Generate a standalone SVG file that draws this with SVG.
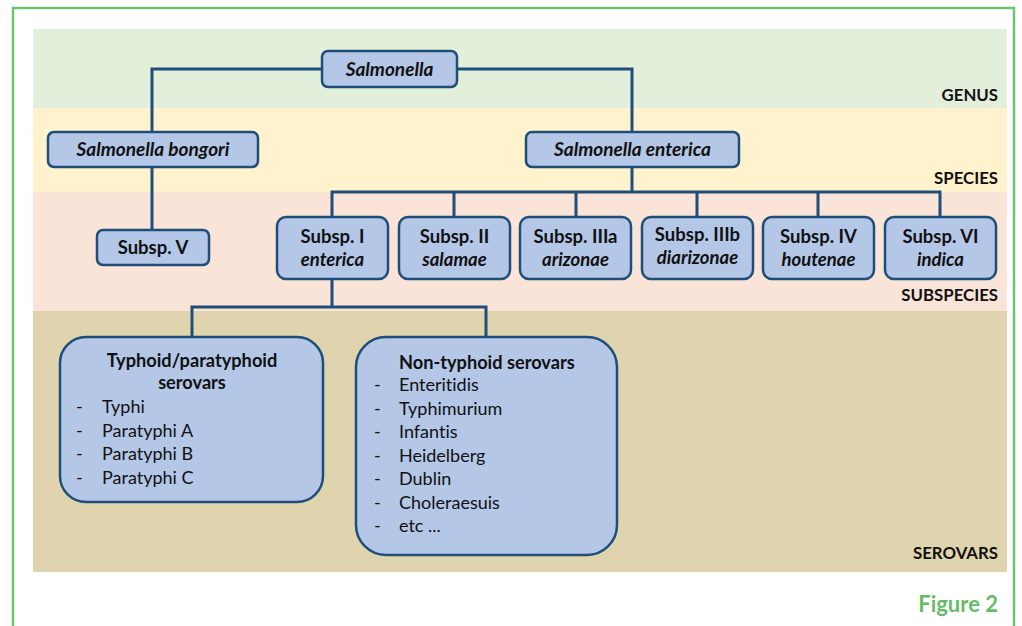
<svg xmlns="http://www.w3.org/2000/svg" width="1022" height="626" viewBox="0 0 1022 626">
<style>
text{font-family:Lato,"Open Sans","Liberation Sans",sans-serif;fill:#111;font-variant-ligatures:none;font-feature-settings:"liga" 0,"dlig" 0}
.n{fill:#b4c7e7;stroke:#1f4e79;stroke-width:2.5}
.c{fill:none;stroke:#1f4e79;stroke-width:3}
.t{font-size:19px;font-weight:bold;font-style:italic;text-anchor:middle}
.s{font-size:18.5px;font-weight:bold;text-anchor:middle}
.i{font-size:18.5px;font-weight:bold;font-style:italic;text-anchor:middle}
.lv{font-size:16.8px;font-weight:bold;text-anchor:end}
.li{font-size:18px}
.h{font-size:18.2px;font-weight:bold}
</style>
<rect x="0" y="0" width="1022" height="626" fill="#fff"/>
<rect x="13" y="8" width="1001" height="640" fill="none" stroke="#6cc76c" stroke-width="2.5"/>
<g id="bands">
<rect x="33" y="29" width="974" height="79" fill="#e2efda"/>
<rect x="33" y="108" width="974" height="84" fill="#fff2cc"/>
<rect x="33" y="192" width="974" height="119" fill="#fae3d7"/>
<rect x="33" y="311" width="974" height="261" fill="#e0d4af"/>
<text class="lv" x="998" y="101">GENUS</text>
<text class="lv" x="998" y="184">SPECIES</text>
<text class="lv" x="998" y="301">SUBSPECIES</text>
<text class="lv" x="998" y="559">SEROVARS</text>
</g>
<g id="connectors">
<path class="c" d="M152,132V69H632V132"/>
<path class="c" d="M152,167V230"/>
<path class="c" d="M632,167V192"/>
<path class="c" d="M332,217V192H940V217M454,192V217M576,192V217M697,192V217M818,192V217"/>
<path class="c" d="M332,279V307M192,337V307H486V337"/>
</g>
<g id="salmonella"><rect class="n" x="322" y="51" width="135" height="36" rx="6"/><text class="t" x="389.5" y="75.5">Salmonella</text></g>
<g id="bongori"><rect class="n" x="48" y="132" width="210" height="35" rx="6"/><text class="t" x="153" y="156">Salmonella bongori</text></g>
<g id="enterica"><rect class="n" x="526" y="132" width="213" height="35" rx="6"/><text class="t" x="632.5" y="156">Salmonella enterica</text></g>
<g id="subspV"><rect class="n" x="97" y="230" width="112" height="35" rx="6"/><text class="s" x="153" y="254">Subsp. V</text></g>
<g id="subspI"><rect class="n" x="277" y="217" width="111" height="62" rx="9"/><text class="s" x="332.5" y="243">Subsp. I</text><text class="i" x="332.5" y="266">enterica</text></g>
<g id="subspII"><rect class="n" x="399" y="217" width="111" height="62" rx="9"/><text class="s" x="454.5" y="243">Subsp. II</text><text class="i" x="454.5" y="266">salamae</text></g>
<g id="subspIIIa"><rect class="n" x="520" y="217" width="111" height="62" rx="9"/><text class="s" x="575.5" y="243">Subsp. IIIa</text><text class="i" x="575.5" y="266">arizonae</text></g>
<g id="subspIIIb"><rect class="n" x="642" y="217" width="111" height="62" rx="9"/><text class="s" x="697.5" y="241">Subsp. IIIb</text><text class="i" x="697.5" y="264">diarizonae</text></g>
<g id="subspIV"><rect class="n" x="763" y="217" width="111" height="62" rx="9"/><text class="s" x="818.5" y="243">Subsp. IV</text><text class="i" x="818.5" y="266">houtenae</text></g>
<g id="subspVI"><rect class="n" x="885" y="217" width="111" height="62" rx="9"/><text class="s" x="940.5" y="243">Subsp. VI</text><text class="i" x="940.5" y="266">indica</text></g>
<g id="typhoid"><rect class="n" x="60" y="337" width="263" height="165" rx="26"/>
<text class="h" x="192" y="367" text-anchor="middle">Typhoid/paratyphoid</text>
<text class="h" x="192" y="389" text-anchor="middle">serovars</text>
<text class="li" x="76" y="413">-</text><text class="li" x="102" y="413">Typhi</text>
<text class="li" x="76" y="436.5">-</text><text class="li" x="102" y="436.5">Paratyphi A</text>
<text class="li" x="76" y="460">-</text><text class="li" x="102" y="460">Paratyphi B</text>
<text class="li" x="76" y="483.5">-</text><text class="li" x="102" y="483.5">Paratyphi C</text>
</g>
<g id="nontyphoid"><rect class="n" x="356" y="337" width="261" height="218" rx="30"/>
<text class="h" x="399" y="369">Non-typhoid serovars</text>
<text class="li" x="374" y="391">-</text><text class="li" x="399" y="391">Enteritidis</text>
<text class="li" x="374" y="414.5">-</text><text class="li" x="399" y="414.5">Typhimurium</text>
<text class="li" x="374" y="438">-</text><text class="li" x="399" y="438">Infantis</text>
<text class="li" x="374" y="461.5">-</text><text class="li" x="399" y="461.5">Heidelberg</text>
<text class="li" x="374" y="485">-</text><text class="li" x="399" y="485">Dublin</text>
<text class="li" x="374" y="508.5">-</text><text class="li" x="399" y="508.5">Choleraesuis</text>
<text class="li" x="374" y="532">-</text><text class="li" x="399" y="532">etc ...</text>
</g>
<text x="998" y="612" text-anchor="end" style="font-size:22px;font-weight:bold;fill:#66bb66">Figure 2</text>
</svg>
